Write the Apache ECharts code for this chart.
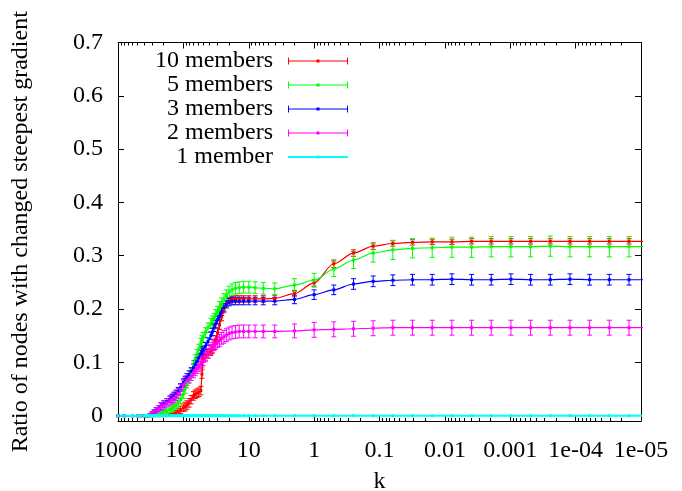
<!DOCTYPE html>
<html>
<head>
<meta charset="utf-8">
<title>Changed steepest gradient vs k</title>
<script src="https://cdn.jsdelivr.net/npm/echarts@6/dist/echarts.min.js"></script>
<style>
  html, body { margin: 0; padding: 0; background: #fff; }
  #chart { width: 682px; height: 491px; }
</style>
</head>
<body>
<div id="chart"></div>
<script>
// k values at which the runs were sampled (step 2 down to 2, then halving)
const kValues = [
  1100, 1000, 800, 600, 500, 450, 400, 380, 360, 340,
  320, 300, 280, 260, 240, 220, 200, 180, 160, 150,
  140, 130, 120, 110, 100, 94, 88, 82, 76, 70,
  66, 62, 58, 54, 52, 50, 46, 42, 38, 36,
  34, 32, 30, 28, 26, 24, 22, 20, 18, 16,
  14, 12, 10, 8, 6, 4, 2, 1, 0.5, 0.25,
  0.125, 0.0625, 0.03125, 0.015625, 0.0078125, 0.00390625, 0.001953125, 0.0009765625, 0.00048828125, 0.000244140625,
  0.0001220703125, 0.00006103515625, 0.000030517578125, 0.0000152587890625, 0.00000762939453125
];

// 10 members
const members10 = [
  0, 0, 0, 0, 0, 0, 0, 0, 0, 0,
  0, 0, 0, 0, 0, 0, 0, 0, 0.001, 0.002,
  0.003, 0.005, 0.008, 0.011, 0.015, 0.017, 0.020, 0.024, 0.030, 0.037,
  0.040, 0.042, 0.044, 0.047, 0.078, 0.108, 0.112, 0.116, 0.121, 0.125,
  0.132, 0.142, 0.155, 0.170, 0.185, 0.200, 0.210, 0.216, 0.218, 0.219,
  0.219, 0.219, 0.219, 0.219, 0.219, 0.220, 0.229, 0.249, 0.285, 0.305,
  0.318, 0.323, 0.325, 0.326, 0.326, 0.327, 0.327, 0.327, 0.327, 0.327,
  0.327, 0.327, 0.327, 0.327, 0.327
];
const members10Err = [
  0, 0, 0, 0, 0, 0, 0, 0, 0, 0,
  0, 0, 0, 0, 0, 0, 0, 0, 0.002, 0.003,
  0.004, 0.005, 0.006, 0.007, 0.007, 0.008, 0.008, 0.008, 0.008, 0.008,
  0.008, 0.008, 0.008, 0.008, 0.008, 0.008, 0.008, 0.008, 0.008, 0.008,
  0.008, 0.008, 0.008, 0.008, 0.007, 0.007, 0.006, 0.006, 0.006, 0.006,
  0.006, 0.006, 0.006, 0.006, 0.006, 0.006, 0.006, 0.006, 0.007, 0.006,
  0.006, 0.005, 0.005, 0.005, 0.005, 0.005, 0.005, 0.005, 0.005, 0.005,
  0.005, 0.005, 0.005, 0.005, 0.005
];

// 5 members
const members5 = [
  0, 0, 0, 0, 0, 0, 0, 0, 0, 0,
  0, 0, 0, 0.001, 0.002, 0.004, 0.006, 0.008, 0.011, 0.013,
  0.016, 0.020, 0.024, 0.030, 0.040, 0.050, 0.060, 0.070, 0.080, 0.095,
  0.105, 0.115, 0.125, 0.136, 0.141, 0.147, 0.156, 0.165, 0.173, 0.178,
  0.182, 0.189, 0.195, 0.203, 0.210, 0.218, 0.225, 0.232, 0.236, 0.239,
  0.240, 0.241, 0.241, 0.240, 0.239, 0.238, 0.245, 0.254, 0.275, 0.292,
  0.305, 0.311, 0.314, 0.315, 0.316, 0.316, 0.317, 0.317, 0.317, 0.318,
  0.317, 0.317, 0.317, 0.317, 0.317
];
const members5Err = [
  0, 0, 0, 0, 0, 0, 0, 0, 0, 0,
  0, 0, 0, 0.001, 0.002, 0.003, 0.004, 0.005, 0.006, 0.007,
  0.008, 0.008, 0.008, 0.008, 0.008, 0.008, 0.008, 0.008, 0.008, 0.008,
  0.009, 0.009, 0.009, 0.009, 0.009, 0.009, 0.009, 0.009, 0.009, 0.009,
  0.010, 0.010, 0.010, 0.011, 0.011, 0.011, 0.011, 0.011, 0.011, 0.011,
  0.011, 0.011, 0.011, 0.011, 0.011, 0.011, 0.012, 0.013, 0.014, 0.016,
  0.017, 0.018, 0.018, 0.018, 0.019, 0.019, 0.019, 0.019, 0.019, 0.019,
  0.019, 0.019, 0.019, 0.019, 0.019
];

// 3 members
const members3 = [
  0, 0, 0, 0, 0, 0, 0, 0, 0, 0,
  0.002, 0.004, 0.007, 0.010, 0.014, 0.018, 0.022, 0.026, 0.031, 0.034,
  0.037, 0.041, 0.046, 0.053, 0.062, 0.067, 0.072, 0.077, 0.083, 0.090,
  0.096, 0.102, 0.109, 0.116, 0.120, 0.123, 0.130, 0.139, 0.150, 0.157,
  0.165, 0.172, 0.180, 0.187, 0.195, 0.203, 0.209, 0.213, 0.215, 0.215,
  0.215, 0.215, 0.215, 0.215, 0.215, 0.215, 0.218, 0.227, 0.236, 0.247,
  0.252, 0.254, 0.255, 0.255, 0.256, 0.255, 0.255, 0.256, 0.255, 0.255,
  0.256, 0.255, 0.255, 0.255, 0.255
];
const members3Err = [
  0, 0, 0, 0, 0, 0, 0, 0, 0, 0,
  0.002, 0.003, 0.004, 0.005, 0.005, 0.006, 0.006, 0.006, 0.006, 0.006,
  0.007, 0.007, 0.007, 0.007, 0.007, 0.007, 0.007, 0.007, 0.007, 0.007,
  0.007, 0.007, 0.007, 0.007, 0.007, 0.007, 0.007, 0.007, 0.007, 0.007,
  0.007, 0.007, 0.007, 0.007, 0.007, 0.007, 0.007, 0.007, 0.007, 0.007,
  0.007, 0.007, 0.007, 0.007, 0.007, 0.007, 0.008, 0.009, 0.009, 0.010,
  0.010, 0.010, 0.010, 0.010, 0.010, 0.010, 0.010, 0.010, 0.010, 0.010,
  0.010, 0.010, 0.010, 0.010, 0.010
];

// 2 members
const members2 = [
  0, 0, 0, 0, 0, 0, 0, 0, 0, 0.001,
  0.002, 0.004, 0.007, 0.010, 0.013, 0.017, 0.020, 0.024, 0.028, 0.030,
  0.033, 0.037, 0.042, 0.049, 0.058, 0.062, 0.066, 0.070, 0.075, 0.080,
  0.084, 0.088, 0.092, 0.097, 0.100, 0.103, 0.110, 0.117, 0.124, 0.128,
  0.132, 0.135, 0.138, 0.141, 0.145, 0.148, 0.151, 0.154, 0.156, 0.157,
  0.158, 0.158, 0.158, 0.158, 0.158, 0.158, 0.159, 0.161, 0.162, 0.163,
  0.164, 0.165, 0.165, 0.165, 0.165, 0.165, 0.165, 0.165, 0.165, 0.165,
  0.165, 0.165, 0.165, 0.165, 0.165
];
const members2Err = [
  0, 0, 0, 0, 0, 0, 0, 0, 0, 0.001,
  0.002, 0.003, 0.004, 0.005, 0.006, 0.007, 0.008, 0.008, 0.008, 0.008,
  0.009, 0.009, 0.009, 0.009, 0.009, 0.009, 0.009, 0.009, 0.009, 0.009,
  0.009, 0.009, 0.009, 0.009, 0.009, 0.009, 0.009, 0.009, 0.009, 0.009,
  0.010, 0.010, 0.010, 0.011, 0.011, 0.012, 0.012, 0.012, 0.012, 0.012,
  0.012, 0.012, 0.012, 0.012, 0.012, 0.012, 0.013, 0.014, 0.014, 0.014,
  0.014, 0.014, 0.014, 0.014, 0.014, 0.014, 0.014, 0.014, 0.014, 0.014,
  0.014, 0.014, 0.014, 0.014, 0.014
];

// 1 member
const members1 = [
  0, 0, 0, 0, 0, 0, 0, 0, 0, 0,
  0, 0, 0, 0, 0, 0, 0, 0, 0, 0,
  0, 0, 0, 0, 0, 0, 0, 0, 0, 0,
  0, 0, 0, 0, 0, 0, 0, 0, 0, 0,
  0, 0, 0, 0, 0, 0, 0, 0, 0, 0,
  0, 0, 0, 0, 0, 0, 0, 0, 0, 0,
  0, 0, 0, 0, 0, 0, 0, 0, 0, 0,
  0, 0, 0, 0, 0
];
const members1Err = members1;

const seriesNames = ['10 members', '5 members', '3 members', '2 members', '1 member'];
const seriesValues = [members10, members5, members3, members2, members1];
const seriesErrors = [members10Err, members5Err, members3Err, members2Err, members1Err];
const seriesColors = ['#ff0000', '#00ff00', '#0000ff', '#ff00ff', '#00ffff'];

// axis ticks
const xTickValues = [1000, 100, 10, 1, 0.1, 0.01, 0.001, 0.0001, 0.00001];
const xTickLabels = ['1000', '100', '10', '1', '0.1', '0.01', '0.001', '1e-04', '1e-05'];
const yTickValues = [0, 0.1, 0.2, 0.3, 0.4, 0.5, 0.6, 0.7];
const yTickLabels = ['0', '0.1', '0.2', '0.3', '0.4', '0.5', '0.6', '0.7'];

// minor log ticks: 2..9 within every decade
const xMinorTicks = [];
for (let e = -5; e < 3; e++) {
  for (let m = 2; m <= 9; m++) xMinorTicks.push(m * Math.pow(10, e));
}

const FONT = '"Liberation Serif", "DejaVu Serif", serif';
const FONT_SIZE = 24;

function xAxisDef(position, minor, showLabels) {
  return {
    type: 'log', logBase: 10, min: 0.00001, max: 1000, inverse: true,
    position: position,
    axisLine: { show: !minor, onZero: false, lineStyle: { color: '#000', width: 1 } },
    axisTick: {
      show: true, inside: true, length: minor ? 3 : 6,
      customValues: minor ? xMinorTicks : xTickValues,
      lineStyle: { color: '#000', width: 1 }
    },
    minorTick: { show: false },
    axisLabel: {
      show: showLabels, margin: 18, customValues: xTickValues,
      showMinLabel: true, showMaxLabel: true, hideOverlap: false,
      fontFamily: FONT, fontSize: FONT_SIZE, color: '#000',
      formatter: v => xTickLabels[Math.round(3 - Math.log10(v))]
    },
    splitLine: { show: false },
    name: showLabels ? 'k' : '',
    nameLocation: 'middle', nameGap: 49,
    nameTextStyle: { fontFamily: FONT, fontSize: FONT_SIZE, color: '#000' }
  };
}

function yAxisDef(position, showLabels) {
  return {
    type: 'value', min: -0.01, max: 0.7, position: position,
    axisLine: { show: true, onZero: false, lineStyle: { color: '#000', width: 1 } },
    axisTick: { show: true, inside: true, length: 6, customValues: yTickValues, lineStyle: { color: '#000' } },
    axisLabel: {
      show: showLabels, margin: 15, customValues: yTickValues,
      fontFamily: FONT, fontSize: FONT_SIZE, color: '#000',
      formatter: v => yTickLabels[Math.round(v * 10)]
    },
    splitLine: { show: false },
    name: showLabels ? 'Ratio of nodes with changed steepest gradient' : '',
    nameLocation: 'middle', nameGap: 85,
    nameTextStyle: { fontFamily: FONT, fontSize: FONT_SIZE, color: '#000' }
  };
}

function errorBars(name, values, errors, color) {
  const rows = [];
  kValues.forEach((k, i) => {
    if (errors[i] > 0) rows.push([k, values[i] - errors[i], values[i] + errors[i]]);
  });
  return {
    type: 'custom', name: name + ' (error)', xAxisIndex: 0, yAxisIndex: 0,
    clip: true, silent: true, encode: { x: 0, y: [1, 2] }, data: rows,
    renderItem(params, api) {
      const hi = api.coord([api.value(0), api.value(2)]);
      const lo = api.coord([api.value(0), api.value(1)]);
      const w = 2.5;
      const st = { stroke: color, lineWidth: 1 };
      return {
        type: 'group',
        children: [
          { type: 'line', shape: { x1: hi[0], y1: hi[1], x2: lo[0], y2: lo[1] }, style: st },
          { type: 'line', shape: { x1: hi[0] - w, y1: hi[1], x2: hi[0] + w, y2: hi[1] }, style: st },
          { type: 'line', shape: { x1: lo[0] - w, y1: lo[1], x2: lo[0] + w, y2: lo[1] }, style: st }
        ]
      };
    }
  };
}

const series = [];
seriesNames.forEach((name, s) => {
  const color = seriesColors[s];
  series.push({
    type: 'line', name: name, xAxisIndex: 0, yAxisIndex: 0,
    data: kValues.map((k, i) => [k, seriesValues[s][i]]),
    smooth: 0.3, smoothMonotone: 'x', clip: true, silent: true,
    symbol: 'rect', symbolSize: 3, showSymbol: true,
    color: color,
    itemStyle: { color: color, borderWidth: 0 },
    lineStyle: { color: color, width: s === 4 ? 2 : 1.2 },
    animation: false
  });
  if (s < 4) series.push(errorBars(name, seriesValues[s], seriesErrors[s], color));
});

// legend sample: horizontal stroke with end caps and a centre point
const capIcon = 'path://M0,0h1v7h-1z M0,3h60v1h-60z M59,0h1v7h-1z M28.5,2h3v3h-3z';
const plainIcon = 'path://M0,2.6h60v1.8h-60z M28.5,2h3v3h-3z';

const option = {
  animation: false,
  backgroundColor: '#fff',
  grid: { left: 118, right: 41, top: 42.5, bottom: 70, containLabel: false, outerBoundsMode: 'none' },
  xAxis: [
    xAxisDef('bottom', false, true),
    xAxisDef('bottom', true, false),
    xAxisDef('top', false, false),
    xAxisDef('top', true, false)
  ],
  yAxis: [
    yAxisDef('left', true),
    yAxisDef('right', false)
  ],
  legend: {
    orient: 'vertical', align: 'right', left: 150, top: 44,
    itemWidth: 60, itemHeight: 7, itemGap: 0,
    selectedMode: false,
    itemStyle: { borderWidth: 0 },
    data: seriesNames.map((n, i) => ({ name: n, icon: i === 4 ? plainIcon : capIcon })),
    textStyle: { fontFamily: FONT, fontSize: FONT_SIZE, color: '#000', lineHeight: 23.7, padding: [0, 10, 0, 0] }
  },
  series: series
};

const chart = echarts.init(document.getElementById('chart'));
chart.setOption(option);
</script>
</body>
</html>
